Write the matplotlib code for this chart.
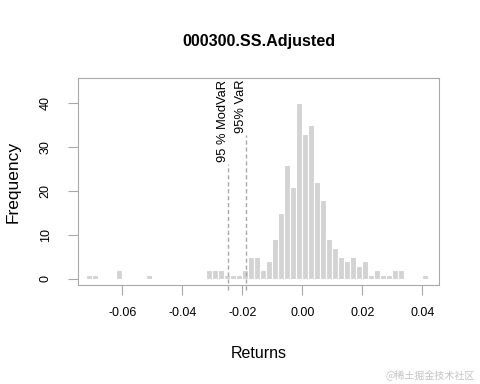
import numpy as np
import matplotlib
matplotlib.use("Agg")
import matplotlib.pyplot as plt

plt.rcParams['font.family'] = ['Liberation Sans', 'DejaVu Sans']

# histogram of daily returns, bin width 0.002 starting at -0.072
bin_start = -0.072
bin_width = 0.002
counts = [1, 1, 0, 0, 0, 2, 0, 0, 0, 0,
          1, 0, 0, 0, 0, 0, 0, 0, 0, 0,
          2, 2, 2, 1, 1, 1, 2, 5, 5, 2,
          4, 9, 15, 26, 21, 40, 33, 35, 22, 18,
          9, 7, 5, 4, 5, 3, 4, 1, 2, 1,
          1, 2, 2, 0, 0, 0, 1]

# risk lines
risk_labels = ["95 % ModVaR", "95% VaR"]
risk_values = [-0.0247, -0.0187]

xticks = [-0.06, -0.04, -0.02, 0.00, 0.02, 0.04]
yticks = [0, 10, 20, 30, 40]

grey = "#a9a9a9"
bar_col = "#d3d3d3"

fig = plt.figure(figsize=(4.8, 3.84), dpi=100)
ax = fig.add_axes([78 / 480, 1 - 285 / 384, (439.3 - 78) / 480, (285 - 78.3) / 384])

lefts = bin_start + bin_width * np.arange(len(counts))
ax.bar(lefts, counts, width=bin_width, align="edge", color=bar_col,
       edgecolor="white", linewidth=0.8)

ax.set_xlim(-0.0748, 0.0457)
ax.set_ylim(-1.37, 45.7)

for s in ax.spines.values():
    s.set_color(grey)
    s.set_linewidth(0.8)

ax.set_xticks(xticks)
ax.set_xticklabels(["%.2f" % v for v in xticks])
ax.set_yticks(yticks)
ax.tick_params(axis="both", colors=grey, labelcolor="black", length=7,
               width=0.8, labelsize=9)
ax.tick_params(axis="x", pad=9)
ax.tick_params(axis="y", pad=12, labelrotation=90)
for lab in ax.get_yticklabels():
    lab.set_va("center")

ax.set_xlabel("Returns", fontsize=11.5)
ax.xaxis.set_label_coords(0.5, -(354 - 285) / (285 - 78.3))
ax.xaxis.label.set_va("center")
ax.set_ylabel("Frequency", fontsize=12.5)
ax.yaxis.set_label_coords(-(78 - 13.3) / (439.3 - 78), 0.5)
ax.yaxis.label.set_va("center")

fig.text(258.6 / 480, 1 - 41.7 / 384, "000300.SS.Adjusted", ha="center",
         va="center", fontsize=11.6, fontweight="bold")

texts = []
for lab, v in zip(risk_labels, risk_values):
    t = ax.annotate(lab, xy=(v, 1), xycoords=("data", "axes fraction"),
                    xytext=(-4, -1), textcoords="offset points",
                    rotation=90, ha="center", va="top", fontsize=9.3)
    texts.append(t)

# dashed lines run from below the axis up to the end of each label
fig.canvas.draw()
renderer = fig.canvas.get_renderer()
inv = ax.transData.inverted()
for t, v in zip(texts, risk_values):
    bb = t.get_window_extent(renderer)
    ytop = inv.transform((0, bb.y0 - 2))[1]
    ax.vlines(v, -2.5, ytop, colors=grey, linestyles=(0, (3, 2)),
              linewidth=1, clip_on=False)

fig.text(0.99, 1 - 376 / 384, "@稀土掘金技术社区", ha="right", va="center",
         color="#c4c4c4", fontsize=7.2,
         family=["Noto Sans CJK SC", "DejaVu Sans"])

fig.savefig("out.png", dpi=100)
